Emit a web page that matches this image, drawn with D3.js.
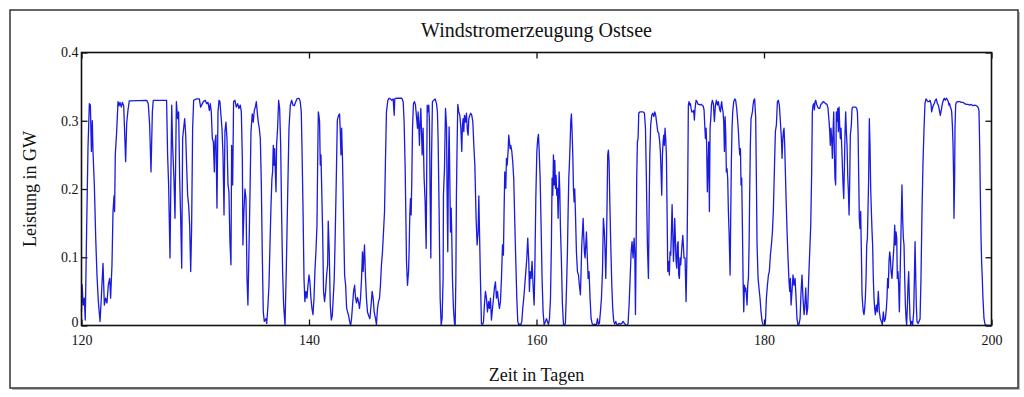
<!DOCTYPE html>
<html>
<head>
<meta charset="utf-8">
<script src="https://cdn.jsdelivr.net/npm/d3@7"></script>
<style>
  html, body { margin: 0; padding: 0; background: #fff; }
  svg { display: block; }
  text { font-family: "Liberation Serif", "DejaVu Serif", serif; fill: #111; }
</style>
</head>
<body>
<svg id="chart" width="1024" height="397"></svg>
<script>
const title = "Windstromerzeugung Ostsee";
const xLabel = "Zeit in Tagen";
const yLabel = "Leistung in GW";
const xTicks = [120, 140, 160, 180, 200];
const yTicks = [0, 0.1, 0.2, 0.3, 0.4];

// [Tag, GW]
const series = [
  [120.0,0.02],[120.05,0.06],[120.15,0.03],[120.25,0.04],[120.33,0.008],[120.45,0.14],[120.57,0.26],[120.69,0.325],
  [120.78,0.323],[120.87,0.255],[120.95,0.30],[121.01,0.255],[121.13,0.205],[121.25,0.128],[121.36,0.074],[121.48,0.035],
  [121.63,0.006],[121.74,0.04],[121.89,0.091],[122.01,0.03],[122.12,0.04],[122.24,0.033],[122.36,0.06],[122.48,0.069],
  [122.56,0.04],[122.68,0.089],[122.77,0.167],[122.86,0.19],[122.91,0.167],[122.97,0.25],[123.09,0.284],[123.21,0.328],
  [123.30,0.322],[123.38,0.327],[123.50,0.32],[123.59,0.327],[123.71,0.322],[123.79,0.284],[123.88,0.24],[123.97,0.296],
  [124.09,0.316],[124.20,0.329],[125.73,0.33],[125.87,0.325],[125.99,0.294],[126.11,0.225],[126.23,0.313],[126.31,0.33],
  [127.48,0.33],[127.57,0.25],[127.66,0.206],[127.78,0.099],
  [127.93,0.323],[128.01,0.264],[128.13,0.214],[128.22,0.157],[128.34,0.328],[128.45,0.303],[128.54,0.313],[128.63,0.216],
  [128.72,0.157],[128.81,0.084],[128.89,0.274],[128.98,0.289],[129.07,0.303],[129.16,0.279],[129.24,0.235],[129.33,0.191],
  [129.42,0.176],[129.51,0.147],[129.60,0.079],[129.68,0.142],[129.77,0.289],[129.86,0.33],[130.12,0.332],[130.36,0.332],
  [130.47,0.32],[130.59,0.324],[130.71,0.328],[130.88,0.33],[131.0,0.325],[131.12,0.327],[131.24,0.315],[131.32,0.325],
  [131.41,0.313],[131.5,0.274],[131.59,0.269],[131.68,0.225],[131.73,0.269],[131.82,0.279],[131.91,0.172],[132.0,0.313],
  [132.09,0.33],[132.17,0.328],[132.26,0.308],[132.35,0.289],[132.44,0.25],[132.53,0.162],[132.61,0.284],[132.7,0.298],
  [132.79,0.274],[132.88,0.206],[132.96,0.196],[133.05,0.123],[133.14,0.089],[133.2,0.264],[133.29,0.206],[133.37,0.328],
  [133.49,0.33],[133.61,0.32],[133.73,0.325],[133.84,0.318],[133.96,0.323],[134.05,0.313],[134.14,0.245],[134.19,0.118],
  [134.28,0.167],[134.37,0.2],[134.46,0.186],[134.55,0.069],[134.63,0.03],[134.72,0.108],[134.81,0.191],[134.9,0.284],
  [135.01,0.31],[135.1,0.298],[135.19,0.315],[135.28,0.32],[135.37,0.328],[135.45,0.313],[135.54,0.298],[135.63,0.289],
  [135.72,0.274],[135.81,0.206],[135.89,0.108],[135.98,0.02],[136.07,0.006],
  [136.22,0.01],[136.28,0.003],[136.39,0.029],[136.48,0.059],[136.57,0.118],[136.66,0.176],[136.74,0.215],[136.8,0.225],
  [136.86,0.264],[136.92,0.235],[136.98,0.259],[137.04,0.225],[137.1,0.196],[137.15,0.264],[137.24,0.289],[137.33,0.33],
  [137.42,0.318],[137.51,0.264],[137.59,0.167],[137.68,0.079],[137.77,0.03],[137.89,0.0],[138.0,0.079],[138.12,0.186],
  [138.24,0.289],[138.36,0.323],[138.47,0.33],[138.59,0.323],[138.71,0.322],[138.82,0.327],[138.94,0.332],[139.06,0.333],
  [139.15,0.332],[139.23,0.328],[139.32,0.313],[139.38,0.264],[139.47,0.176],[139.56,0.069],[139.64,0.035],[139.73,0.05],
  [139.82,0.04],[139.91,0.059],[140.0,0.074],[140.08,0.064],[140.17,0.04],[140.26,0.025],[140.35,0.016],[140.44,0.04],
  [140.52,0.079],[140.61,0.108],[140.7,0.147],[140.76,0.235],[140.82,0.313],[140.87,0.308],[140.93,0.299],[140.99,0.235],
  [141.05,0.25],[141.11,0.206],[141.2,0.137],[141.28,0.05],[141.37,0.035],[141.46,0.05],[141.55,0.074],[141.64,0.089],
  [141.69,0.153],[141.78,0.108],[141.87,0.03],[141.96,0.008],[142.05,0.015],[142.13,0.04],[142.22,0.069],[142.31,0.137],
  [142.4,0.215],[142.49,0.301],[142.6,0.308],[142.69,0.31],[142.75,0.284],[142.81,0.25],[142.87,0.289],[142.95,0.24],
  [143.04,0.157],[143.13,0.074],[143.22,0.059],[143.31,0.025],[143.39,0.02],[143.48,0.015],[143.57,0.006],[143.66,0.0],
  [143.74,0.01],[143.83,0.03],[143.92,0.05],[144.01,0.059],
  [144.09,0.041],[144.18,0.033],[144.26,0.041],[144.35,0.035],[144.44,0.025],[144.53,0.04],[144.62,0.069],[144.7,0.108],
  [144.76,0.079],[144.82,0.099],[144.88,0.118],[144.97,0.069],[145.05,0.04],[145.14,0.02],[145.23,0.015],[145.35,0.01],
  [145.46,0.03],[145.55,0.05],[145.64,0.04],[145.73,0.02],[145.85,0.01],[145.93,0.001],[146.02,0.025],[146.11,0.035],
  [146.2,0.04],[146.28,0.059],[146.37,0.089],[146.46,0.108],[146.55,0.137],[146.64,0.167],[146.72,0.24],[146.81,0.313],
  [146.93,0.33],[147.05,0.333],[147.16,0.332],[147.28,0.33],[147.4,0.332],[147.49,0.308],[147.54,0.332],[147.69,0.333],
  [148.16,0.333],[148.28,0.328],[148.36,0.299],[148.45,0.235],[148.51,0.167],[148.57,0.094],[148.66,0.059],[148.75,0.079],
  [148.8,0.108],[148.86,0.162],[148.92,0.186],[148.98,0.162],[149.04,0.215],[149.1,0.289],[149.18,0.325],[149.27,0.328],
  [149.36,0.323],[149.45,0.306],[149.54,0.289],[149.59,0.313],[149.65,0.294],[149.71,0.264],[149.77,0.298],[149.83,0.318],
  [149.89,0.284],[149.95,0.25],[150.03,0.289],[150.12,0.216],[150.21,0.181],[150.3,0.113],[150.39,0.323],[150.47,0.313],
  [150.53,0.323],[150.59,0.298],[150.65,0.191],[150.71,0.099],[150.77,0.24],[150.85,0.328],[150.97,0.33],[151.09,0.332],
  [151.21,0.325],[151.29,0.313],[151.35,0.274],[151.44,0.167],[151.53,0.04],[151.62,0.001],[151.7,0.01],[151.79,0.069],
  [151.82,0.191],[151.91,0.23],[152.0,0.318],[152.09,0.293],[152.14,0.191],[152.2,0.108],[152.26,0.24],[152.32,0.291],
  [152.38,0.215],[152.44,0.137],[152.5,0.172],[152.55,0.133],[152.61,0.069],[152.7,0.025],[152.79,0.003],[152.85,0.0],
  [152.91,0.069],[152.96,0.191],[153.02,0.264],[153.08,0.324],[153.17,0.313],[153.26,0.308],[153.35,0.289],[153.43,0.255],
  [153.49,0.294],[153.55,0.303],[153.61,0.284],[153.67,0.308],[153.76,0.298],[153.84,0.311],[153.93,0.284],[153.99,0.279],
  [154.05,0.303],[154.14,0.308],[154.22,0.311],[154.31,0.308],[154.4,0.299],[154.49,0.264],[154.58,0.235],[154.63,0.2],
  [154.69,0.157],[154.78,0.118],[154.87,0.137],[154.93,0.19],[154.99,0.137],[155.07,0.069],[155.16,0.003],[155.25,0.001],
  [155.34,0.005],[155.42,0.03],[155.51,0.05],[155.6,0.04],[155.69,0.02],[155.78,0.035],[155.86,0.025],[155.95,0.04],
  [156.04,0.008],[156.13,0.025],[156.22,0.04],[156.3,0.055],[156.39,0.064],[156.48,0.04],[156.57,0.05],[156.66,0.035],
  [156.74,0.025],[156.83,0.035],[156.92,0.069],[157.01,0.118],[157.09,0.103],[157.15,0.167],[157.21,0.225],[157.3,0.201],
  [157.36,0.245],[157.42,0.235],[157.5,0.255],[157.56,0.279],[157.62,0.269],[157.68,0.259],[157.74,0.264],[157.83,0.255],
  [157.91,0.24],[158.0,0.215],[158.09,0.152],[158.18,0.094],[158.27,0.04],[158.35,0.006],[158.44,0.001],[158.53,0.002],
  [158.62,0.001],[158.71,0.006],[158.79,0.025],[158.88,0.04],[158.97,0.059],[159.06,0.079],[159.15,0.099],[159.23,0.128],
  [159.32,0.094],[159.38,0.05],[159.44,0.079],[159.53,0.069],[159.61,0.094],[159.7,0.059],[159.79,0.03],[159.85,0.079],
  [159.94,0.186],[160.03,0.255],[160.11,0.274],[160.17,0.28],[160.23,0.259],[160.32,0.215],[160.41,0.142],[160.49,0.069],
  [160.58,0.02],[160.67,0.001],[160.79,0.006],[160.87,0.01],[160.96,0.006],[161.05,0.001],[161.14,0.01],[161.23,0.04],
  [161.31,0.118],[161.37,0.216],[161.43,0.191],[161.49,0.25],[161.55,0.206],[161.61,0.242],[161.67,0.201],[161.72,0.22],
  [161.78,0.191],[161.84,0.201],[161.9,0.157],[161.99,0.225],[162.05,0.196],[162.1,0.147],[162.19,0.094],[162.28,0.03],
  [162.37,0.002],[162.46,0.001],[162.54,0.003],[162.63,0.05],[162.72,0.108],[162.78,0.167],[162.84,0.216],[162.9,0.24],
  [162.95,0.264],[163.01,0.298],[163.07,0.31],[163.13,0.284],[163.19,0.25],[163.25,0.2],[163.31,0.181],[163.36,0.2],
  [163.42,0.167],[163.51,0.108],[163.6,0.079],[163.69,0.074],[163.77,0.059],[163.86,0.045],[163.92,0.079],[163.98,0.118],
  [164.04,0.137],[164.1,0.157],[164.16,0.128],[164.21,0.108],[164.27,0.099],[164.33,0.118],[164.39,0.137],[164.45,0.108],
  [164.54,0.069],[164.62,0.079],[164.71,0.04],[164.8,0.01],[164.89,0.003],[164.98,0.001],[165.12,0.002],[165.27,0.001],
  [165.36,0.01],[165.44,0.002],[165.53,0.003],[165.62,0.02],[165.71,0.04],[165.8,0.079],[165.88,0.157],[165.97,0.137],
  [166.03,0.108],[166.09,0.069],[166.15,0.118],[166.21,0.186],[166.26,0.25],[166.32,0.257],[166.38,0.24],[166.44,0.186],
  [166.53,0.118],[166.62,0.059],[166.7,0.025],[166.79,0.006],[166.88,0.002],[166.97,0.006],[167.05,0.002],[167.14,0.001],
  [167.26,0.003],[167.38,0.002],[167.5,0.003],[167.61,0.006],[167.73,0.003],
  [167.85,0.001],[167.96,0.0],[168.05,0.003],[168.14,0.03],[168.23,0.069],[168.32,0.108],[168.4,0.123],[168.49,0.099],
  [168.58,0.128],[168.64,0.108],[168.7,0.016],[168.76,0.118],[168.81,0.216],[168.87,0.269],[168.93,0.274],[168.99,0.311],
  [169.08,0.313],[169.17,0.313],[169.25,0.313],[169.37,0.313],[169.49,0.311],[169.58,0.289],[169.66,0.216],[169.75,0.118],
  [169.84,0.069],[169.9,0.167],[169.96,0.25],[170.04,0.294],[170.13,0.308],[170.22,0.311],[170.31,0.306],[170.4,0.313],
  [170.48,0.308],[170.57,0.296],[170.66,0.284],[170.75,0.282],[170.83,0.269],[170.89,0.255],[170.95,0.225],[171.01,0.191],
  [171.07,0.25],[171.13,0.269],[171.19,0.279],[171.24,0.264],[171.3,0.289],[171.36,0.274],[171.42,0.25],[171.48,0.167],
  [171.54,0.079],[171.63,0.094],[171.68,0.074],[171.74,0.108],[171.8,0.103],[171.86,0.137],[171.92,0.177],[171.98,0.137],
  [172.04,0.094],[172.09,0.113],[172.15,0.157],[172.21,0.128],[172.27,0.094],[172.33,0.084],[172.39,0.118],[172.45,0.123],
  [172.5,0.074],[172.56,0.069],[172.62,0.099],[172.68,0.089],[172.77,0.113],[172.86,0.132],[172.91,0.118],[172.97,0.099],
  [173.06,0.099],[173.15,0.035],[173.24,0.118],[173.3,0.216],[173.35,0.323],[173.41,0.328],[173.47,0.323],[173.53,0.325],
  [173.59,0.318],[173.65,0.313],[173.73,0.313],[173.82,0.315],[173.88,0.301],[173.94,0.318],[174.03,0.33],[174.12,0.328],
  [174.2,0.324],[174.29,0.324],[174.38,0.323],[174.47,0.324],[174.55,0.323],[174.64,0.322],[174.73,0.316],[174.79,0.294],
  [174.85,0.274],[174.91,0.289],[174.96,0.264],[175.02,0.196],[175.08,0.235],[175.14,0.269],[175.2,0.167],[175.26,0.289],
  [175.32,0.303],[175.38,0.323],[175.46,0.33],[175.55,0.325],[175.64,0.299],
  [175.73,0.323],[175.82,0.33],[175.9,0.323],[175.99,0.328],[176.08,0.318],[176.17,0.313],[176.23,0.323],[176.28,0.328],
  [176.34,0.318],[176.4,0.313],[176.46,0.299],[176.52,0.255],[176.58,0.306],[176.64,0.279],[176.69,0.225],[176.75,0.23],
  [176.81,0.215],[176.87,0.167],[176.93,0.137],[177.02,0.074],[177.08,0.167],[177.13,0.24],[177.19,0.289],[177.25,0.313],
  [177.34,0.328],[177.43,0.332],[177.51,0.33],[177.6,0.318],[177.69,0.299],[177.75,0.284],[177.81,0.264],[177.87,0.25],
  [177.93,0.259],[177.98,0.206],[178.04,0.216],[178.1,0.147],[178.16,0.069],[178.22,0.02],[178.28,0.059],[178.33,0.05],
  [178.39,0.055],[178.45,0.045],[178.51,0.03],[178.57,0.059],[178.63,0.069],[178.69,0.118],[178.74,0.191],[178.8,0.264],
  [178.86,0.303],[178.92,0.308],[178.98,0.313],[179.04,0.323],[179.1,0.33],[179.18,0.332],[179.27,0.304],[179.33,0.216],
  [179.39,0.118],[179.48,0.069],[179.56,0.055],[179.65,0.04],[179.74,0.02],[179.83,0.006],[179.92,0.001],[180.03,0.0],
  [180.12,0.002],[180.21,0.04],[180.3,0.059],[180.39,0.074],[180.47,0.079],[180.56,0.103],[180.65,0.118],[180.74,0.137],
  [180.82,0.167],[180.91,0.225],[181.0,0.284],[181.09,0.294],[181.18,0.328],[181.26,0.33],[181.35,0.323],[181.44,0.299],
  [181.53,0.274],[181.59,0.245],[181.64,0.269],[181.7,0.284],[181.76,0.289],[181.82,0.264],[181.88,0.225],[181.94,0.186],
  [182.03,0.137],[182.11,0.099],[182.2,0.064],[182.26,0.05],[182.32,0.069],[182.38,0.03],[182.46,0.05],[182.55,0.074],
  [182.64,0.059],[182.73,0.069],[182.82,0.04],[182.9,0.01],[182.99,0.001],[183.08,0.002],[183.17,0.01],[183.26,0.05],
  [183.34,0.074],[183.43,0.04],[183.52,0.016],[183.58,0.025],
  [183.67,0.055],[183.76,0.016],[183.84,0.025],[183.93,0.069],[184.02,0.108],[184.11,0.147],[184.19,0.225],[184.25,0.313],
  [184.31,0.323],[184.37,0.325],[184.43,0.316],[184.49,0.328],[184.55,0.33],[184.63,0.324],[184.72,0.32],[184.81,0.318],
  [184.9,0.318],[184.99,0.324],[185.07,0.325],[185.19,0.328],[185.31,0.327],[185.42,0.325],[185.54,0.324],[185.63,0.318],
  [185.72,0.299],[185.78,0.284],[185.83,0.264],[185.89,0.289],[185.95,0.274],[186.01,0.245],[186.07,0.284],[186.13,0.313],
  [186.19,0.25],[186.24,0.216],[186.3,0.206],[186.36,0.313],[186.42,0.299],[186.48,0.318],[186.54,0.284],[186.6,0.32],
  [186.65,0.294],[186.71,0.274],[186.77,0.289],[186.83,0.264],[186.89,0.235],[186.95,0.206],[187.01,0.186],[187.06,0.225],
  [187.12,0.279],[187.18,0.313],[187.24,0.284],[187.3,0.264],[187.36,0.22],[187.42,0.196],[187.48,0.162],[187.53,0.206],
  [187.59,0.279],[187.68,0.294],[187.74,0.318],[187.8,0.32],[187.89,0.32],[187.97,0.32],[188.06,0.32],[188.15,0.318],
  [188.21,0.313],[188.27,0.284],[188.32,0.225],[188.38,0.157],[188.44,0.142],[188.5,0.167],[188.56,0.108],[188.62,0.045],
  [188.68,0.03],[188.73,0.02],[188.79,0.016],[188.85,0.025],[188.91,0.04],[188.97,0.069],[189.03,0.118],[189.09,0.128],
  [189.14,0.167],[189.2,0.216],[189.26,0.303],[189.32,0.264],[189.38,0.2],[189.44,0.167],[189.5,0.137],[189.55,0.118],
  [189.61,0.069],[189.67,0.04],[189.73,0.025],[189.79,0.016],[189.88,0.03],[189.96,0.02],[190.05,0.05],[190.14,0.02],
  [190.23,0.01],[190.32,0.006],[190.4,0.001],[190.49,0.02],[190.58,0.006],[190.67,0.01],[190.76,0.025],[190.81,0.04],
  [190.87,0.069],[190.93,0.055],[190.99,0.094],[191.05,0.108],[191.11,0.099],[191.17,0.079],[191.25,0.069],[191.34,0.094],
  [191.43,0.118],[191.49,0.147],
  [191.55,0.118],[191.61,0.137],[191.67,0.128],[191.72,0.069],[191.78,0.079],[191.84,0.059],[191.9,0.02],[191.96,0.069],
  [192.02,0.118],[192.08,0.167],[192.13,0.206],[192.19,0.157],[192.25,0.128],[192.31,0.118],[192.37,0.069],[192.43,0.03],
  [192.49,0.01],[192.54,0.001],[192.6,0.025],[192.66,0.059],[192.72,0.079],[192.78,0.04],[192.84,0.01],[192.9,0.001],
  [192.98,0.006],[193.07,0.001],[193.16,0.02],[193.22,0.069],[193.28,0.123],[193.33,0.079],[193.39,0.03],[193.45,0.006],
  [193.54,0.003],[193.63,0.006],[193.72,0.01],[193.8,0.069],[193.89,0.167],[193.98,0.24],[194.07,0.289],[194.15,0.325],
  [194.24,0.332],[194.33,0.33],[194.42,0.328],[194.51,0.328],[194.59,0.33],[194.68,0.325],[194.74,0.313],[194.8,0.318],
  [194.89,0.323],[194.97,0.325],[195.06,0.33],[195.15,0.332],[195.24,0.325],[195.33,0.323],[195.41,0.316],[195.5,0.308],
  [195.59,0.316],[195.68,0.325],[195.77,0.33],[195.85,0.333],[195.94,0.33],[196.03,0.333],[196.12,0.331],[196.2,0.328],
  [196.26,0.323],[196.32,0.325],[196.38,0.32],[196.44,0.318],[196.5,0.313],[196.56,0.294],[196.62,0.264],[196.67,0.215],
  [196.7,0.157],[196.76,0.215],[196.79,0.289],[196.85,0.323],[196.91,0.327],[197.05,0.328],[197.2,0.328],[197.35,0.327],
  [197.49,0.327],[197.64,0.325],[197.79,0.324],[197.93,0.324],[198.08,0.323],[198.23,0.324],[198.37,0.322],[198.52,0.323],
  [198.67,0.322],[198.81,0.32],[198.9,0.315],[198.96,0.264],[199.02,0.191],[199.08,0.128],[199.13,0.094],[199.19,0.069],
  [199.25,0.04],[199.34,0.01],[199.43,0.002],[199.54,0.0],[199.84,0.0],[200.0,0.0]
];

const svg = d3.select("#chart");
const plot = { left: 81.5, right: 991.5, top: 52.5, bottom: 325.5 };

const x = d3.scaleLinear().domain([120, 200]).range([plot.left, plot.right]);
const y = d3.scaleLinear().domain([0, 0.4]).range([plot.bottom, plot.top]);

// outer frame with a light shadow
svg.append("rect")
  .attr("x", 12).attr("y", 12).attr("width", 1008).attr("height", 378)
  .attr("fill", "#bbb");
svg.append("rect")
  .attr("x", 10).attr("y", 10).attr("width", 1008).attr("height", 378)
  .attr("fill", "#fff").attr("stroke", "#333").attr("stroke-width", 1.5);

svg.append("text")
  .attr("x", (plot.left + plot.right) / 2).attr("y", 37)
  .attr("text-anchor", "middle").attr("font-size", 20)
  .text(title);

const fmt = d => d === 0 ? "0" : d3.format(".1f")(d);

// ticks point into the plot on all four sides
svg.append("g")
  .attr("transform", `translate(0,${plot.bottom})`)
  .call(d3.axisBottom(x).tickValues(xTicks).tickSize(-6).tickPadding(10).tickFormat(d3.format("d")))
  .call(g => g.select(".domain").remove())
  .call(g => g.selectAll("text").attr("font-size", 14).attr("font-family", "Liberation Serif").attr("fill", "#111"));

svg.append("g")
  .attr("transform", `translate(0,${plot.top})`)
  .call(d3.axisTop(x).tickValues(xTicks).tickSize(-6).tickFormat(""))
  .call(g => g.select(".domain").remove());

svg.append("g")
  .attr("transform", `translate(${plot.left},0)`)
  .call(d3.axisLeft(y).tickValues(yTicks).tickSize(-6).tickPadding(3).tickFormat(fmt))
  .call(g => g.select(".domain").remove())
  .call(g => g.selectAll("text").attr("font-size", 14).attr("font-family", "Liberation Serif").attr("fill", "#111"))
  .call(g => g.selectAll("text").filter(d => d === 0).attr("dy", "0.1em"));

svg.append("g")
  .attr("transform", `translate(${plot.right},0)`)
  .call(d3.axisRight(y).tickValues(yTicks).tickSize(-6).tickFormat(""))
  .call(g => g.select(".domain").remove());

svg.selectAll(".tick line").attr("stroke", "#111").attr("stroke-width", 1.3);

const line = d3.line()
  .x(d => x(d[0]))
  .y(d => y(d[1]));

svg.append("path")
  .datum(series)
  .attr("fill", "none")
  .attr("stroke", "#1a1ae0")
  .attr("stroke-width", 1.3)
  .attr("stroke-linejoin", "round")
  .attr("d", line);

svg.append("rect")
  .attr("x", plot.left).attr("y", plot.top)
  .attr("width", plot.right - plot.left).attr("height", plot.bottom - plot.top)
  .attr("fill", "none").attr("stroke", "#111").attr("stroke-width", 1.6);

svg.append("text")
  .attr("x", (plot.left + plot.right) / 2).attr("y", 381)
  .attr("text-anchor", "middle").attr("font-size", 18)
  .text(xLabel);

svg.append("text")
  .attr("transform", `translate(36,${(plot.top + plot.bottom) / 2}) rotate(-90)`)
  .attr("text-anchor", "middle").attr("font-size", 18)
  .text(yLabel);
</script>
</body>
</html>
